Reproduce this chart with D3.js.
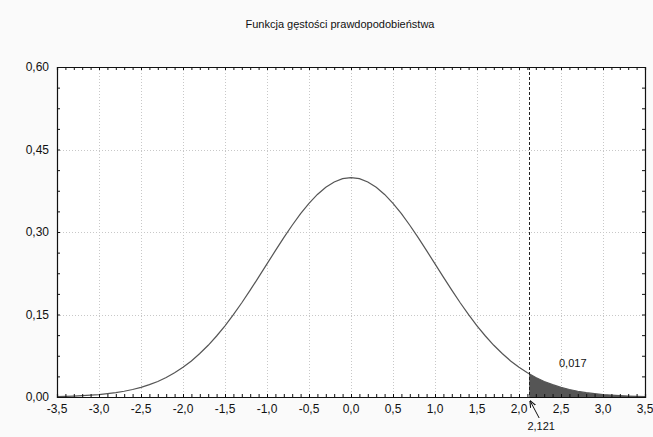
<!DOCTYPE html>
<html>
<head>
<meta charset="utf-8">
<script src="https://cdn.jsdelivr.net/npm/d3@7"></script>
<style>
  body { margin: 0; background: #fafafa; }
  text { font-family: "Liberation Sans", Arial, sans-serif; }
</style>
</head>
<body>
<div id="chart"></div>
<script>
var title = "Funkcja gęstości prawdopodobieństwa";

// density curve (step 0.1)
var xValues = [-3.5, -3.4, -3.3, -3.2, -3.1, -3.0, -2.9, -2.8, -2.7, -2.6, -2.5, -2.4, -2.3, -2.2, -2.1, -2.0,
  -1.9, -1.8, -1.7, -1.6, -1.5, -1.4, -1.3, -1.2, -1.1, -1.0, -0.9, -0.8, -0.7, -0.6, -0.5, -0.4, -0.3, -0.2, -0.1,
  0.0, 0.1, 0.2, 0.3, 0.4, 0.5, 0.6, 0.7, 0.8, 0.9, 1.0, 1.1, 1.2, 1.3, 1.4, 1.5, 1.6, 1.7, 1.8, 1.9, 2.0,
  2.1, 2.2, 2.3, 2.4, 2.5, 2.6, 2.7, 2.8, 2.9, 3.0, 3.1, 3.2, 3.3, 3.4, 3.5];
var density = [0.0009, 0.0012, 0.0017, 0.0024, 0.0033, 0.0044, 0.0060, 0.0079, 0.0104, 0.0136, 0.0175, 0.0224, 0.0283, 0.0355, 0.0440, 0.0540,
  0.0656, 0.0790, 0.0940, 0.1109, 0.1295, 0.1497, 0.1714, 0.1942, 0.2179, 0.2420, 0.2661, 0.2897, 0.3123, 0.3332, 0.3521, 0.3683, 0.3814, 0.3910, 0.3970,
  0.3989, 0.3970, 0.3910, 0.3814, 0.3683, 0.3521, 0.3332, 0.3123, 0.2897, 0.2661, 0.2420, 0.2179, 0.1942, 0.1714, 0.1497, 0.1295, 0.1109, 0.0940, 0.0790, 0.0656, 0.0540,
  0.0440, 0.0355, 0.0283, 0.0224, 0.0175, 0.0136, 0.0104, 0.0079, 0.0060, 0.0044, 0.0033, 0.0024, 0.0017, 0.0012, 0.0009];

// shaded tail beyond the critical value
var critical = 2.121;
var tailX = [2.121, 2.2, 2.3, 2.4, 2.5, 2.6, 2.7, 2.8, 2.9, 3.0, 3.1, 3.2, 3.3, 3.4, 3.5];
var tailY = [0.0421, 0.0355, 0.0283, 0.0224, 0.0175, 0.0136, 0.0104, 0.0079, 0.0060, 0.0044, 0.0033, 0.0024, 0.0017, 0.0012, 0.0009];
var tailLabel = "0,017";
var criticalLabel = "2,121";

var xTicks = [-3.5, -3.0, -2.5, -2.0, -1.5, -1.0, -0.5, 0.0, 0.5, 1.0, 1.5, 2.0, 2.5, 3.0, 3.5];
var yTicks = [0.00, 0.15, 0.30, 0.45, 0.60];

var W = 653, H = 437;
var mLeft = 57, mRight = 645, mTop = 67, mBottom = 397;

var fmt = function(d) { return d.toFixed(1).replace(".", ","); };
var fmtY = function(d) { return d.toFixed(2).replace(".", ","); };

var x = d3.scaleLinear().domain([-3.5, 3.5]).range([mLeft, mRight]);
var y = d3.scaleLinear().domain([0, 0.6]).range([mBottom, mTop]);

var svg = d3.select("#chart").append("svg")
  .attr("width", W)
  .attr("height", H);

svg.append("rect")
  .attr("width", W).attr("height", H)
  .style("fill", "#fafafa");

svg.append("rect")
  .attr("x", mLeft).attr("y", mTop)
  .attr("width", mRight - mLeft).attr("height", mBottom - mTop)
  .style("fill", "white");

svg.append("text")
  .attr("x", 340)
  .attr("y", 28)
  .attr("text-anchor", "middle")
  .style("font-size", "11px")
  .style("fill", "#111")
  .text(title);

// grid
svg.append("g").selectAll("line")
  .data(xTicks.slice(1, -1))
  .enter().append("line")
  .attr("x1", d => Math.round(x(d)) + 0.5).attr("x2", d => Math.round(x(d)) + 0.5)
  .attr("y1", mTop).attr("y2", mBottom)
  .style("stroke", "#c8c8c8")
  .style("stroke-dasharray", "1,2");

svg.append("g").selectAll("line")
  .data(yTicks.slice(1, -1))
  .enter().append("line")
  .attr("x1", mLeft).attr("x2", mRight)
  .attr("y1", d => Math.round(y(d)) + 0.5).attr("y2", d => Math.round(y(d)) + 0.5)
  .style("stroke", "#c8c8c8")
  .style("stroke-dasharray", "1,2");

// shaded tail
var area = d3.area()
  .x((d, i) => x(tailX[i]))
  .y0(y(0))
  .y1((d, i) => y(tailY[i]));
svg.append("path")
  .datum(tailY)
  .attr("d", area)
  .style("fill", "#555");

// density line
var line = d3.line()
  .x((d, i) => x(xValues[i]))
  .y((d, i) => y(density[i]));
svg.append("path")
  .datum(density)
  .attr("d", line)
  .style("fill", "none")
  .style("stroke", "#555")
  .style("stroke-width", 1.2);

// critical value line
svg.append("line")
  .attr("x1", Math.round(x(critical)) + 0.5).attr("x2", Math.round(x(critical)) + 0.5)
  .attr("y1", mTop).attr("y2", mBottom)
  .style("stroke", "#222")
  .style("stroke-dasharray", "3,2");

// axes: minor ticks inward
var xMinor = d3.range(-35, 36).map(d => d / 10);
var yMinor = d3.range(0, 17).map(d => d * 0.0375);

var xAxisB = d3.axisBottom(x).tickValues(xMinor).tickSize(-3).tickFormat("");
var xAxisT = d3.axisTop(x).tickValues(xMinor).tickSize(-3).tickFormat("");
var yAxisL = d3.axisLeft(y).tickValues(yMinor).tickSize(-3).tickFormat("");
var yAxisR = d3.axisRight(y).tickValues(yMinor).tickSize(-3).tickFormat("");

svg.append("g").attr("transform", "translate(0," + mBottom + ")").call(xAxisB);
svg.append("g").attr("transform", "translate(0," + mTop + ")").call(xAxisT);
svg.append("g").attr("transform", "translate(" + mLeft + ",0)").call(yAxisL);
svg.append("g").attr("transform", "translate(" + mRight + ",0)").call(yAxisR);
svg.selectAll(".domain").style("stroke", "#111").style("stroke-width", 1.2);
svg.selectAll(".tick line").style("stroke", "#111");

// labels
svg.append("g").selectAll("text")
  .data(xTicks)
  .enter().append("text")
  .attr("x", d => x(d))
  .attr("y", mBottom + 16)
  .attr("text-anchor", "middle")
  .style("font-size", "12px")
  .style("fill", "#111")
  .text(fmt);

svg.append("g").selectAll("text")
  .data(yTicks)
  .enter().append("text")
  .attr("x", mLeft - 8)
  .attr("y", d => y(d) + 4)
  .attr("text-anchor", "end")
  .style("font-size", "12px")
  .style("fill", "#111")
  .text(fmtY);

svg.append("text")
  .attr("x", x(2.64))
  .attr("y", y(0.055))
  .attr("text-anchor", "middle")
  .style("font-size", "11px")
  .style("fill", "#111")
  .text(tailLabel);

svg.append("defs").append("marker")
  .attr("id", "arrow")
  .attr("viewBox", "0 0 10 10")
  .attr("refX", 9).attr("refY", 5)
  .attr("markerWidth", 7).attr("markerHeight", 7)
  .attr("orient", "auto")
  .append("path")
  .attr("d", "M0,1 L10,5 L0,9")
  .style("fill", "none")
  .style("stroke", "#111")
  .style("stroke-width", 1.5);

svg.append("line")
  .attr("x1", x(critical) + 10).attr("y1", mBottom + 21)
  .attr("x2", x(critical) + 1).attr("y2", mBottom + 4)
  .style("stroke", "#111")
  .attr("marker-end", "url(#arrow)");

svg.append("text")
  .attr("x", x(critical) + 12)
  .attr("y", mBottom + 33)
  .attr("text-anchor", "middle")
  .style("font-size", "11px")
  .style("fill", "#111")
  .text(criticalLabel);
</script>
</body>
</html>
